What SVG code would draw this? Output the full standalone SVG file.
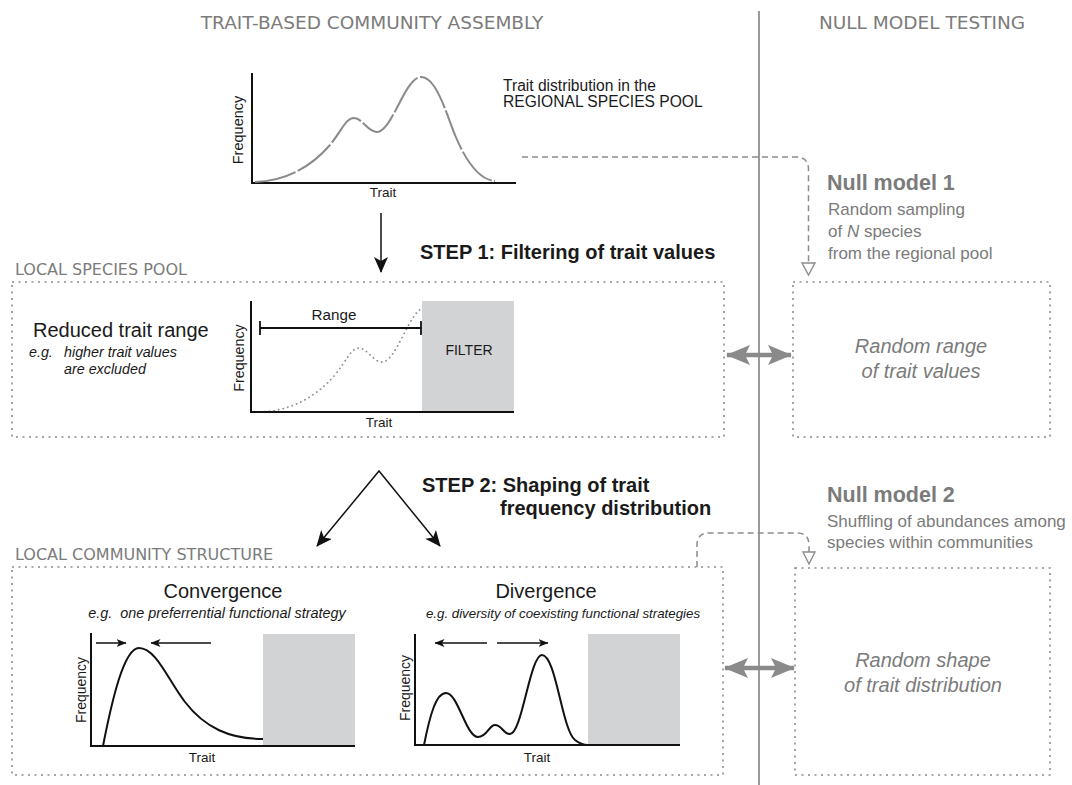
<svg xmlns="http://www.w3.org/2000/svg" width="1072" height="785" viewBox="0 0 1072 785">
<style>
.title{font-family:"DejaVu Sans",sans-serif;font-size:18.5px;fill:#7b7b7b}
.sec{font-family:"DejaVu Sans",sans-serif;font-size:16px;fill:#7b7b7b}
.t{font-family:"Liberation Sans",Arial,sans-serif;fill:#1a1a1a}
.g{font-family:"Liberation Sans",Arial,sans-serif;fill:#7b7b7b}
.it{font-style:italic}
.b{font-weight:bold}
.box{fill:none;stroke:#8c8c8c;stroke-width:1.6;stroke-dasharray:2 4.5}
.dash{fill:none;stroke:#8c8c8c;stroke-width:1.5;stroke-dasharray:6 4}
.axis{fill:none;stroke:#111;stroke-width:2}
.curve{fill:none;stroke:#111;stroke-width:2}
.filter{fill:#d1d3d4}
.blk{fill:none;stroke:#111;stroke-width:1.5}
.dbl{fill:none;stroke:#8a8a8a;stroke-width:4.5}
.tri{fill:#fff;stroke:#8c8c8c;stroke-width:1.4}
</style>
<defs>
<marker id="ah" viewBox="0 0 16 14" refX="15" refY="7" markerWidth="16" markerHeight="14" markerUnits="userSpaceOnUse" orient="auto-start-reverse">
<path d="M0,0 L16,7 L0,14 L4,7 Z" fill="#111"/>
</marker>
<marker id="ahs" viewBox="0 0 10 8" refX="9.5" refY="4" markerWidth="10" markerHeight="8" markerUnits="userSpaceOnUse" orient="auto-start-reverse">
<path d="M0,0 L10,4 L0,8 L2.5,4 Z" fill="#111"/>
</marker>
<marker id="ahg" viewBox="0 0 24 20" refX="23" refY="10" markerWidth="24" markerHeight="20" markerUnits="userSpaceOnUse" orient="auto-start-reverse">
<path d="M0,0 L24,10 L0,20 L5,10 Z" fill="#8a8a8a"/>
</marker>
<clipPath id="clipf"><rect x="240" y="290" width="182" height="130"/></clipPath>
</defs>
<rect width="1072" height="785" fill="#fff"/>

<g id="titles">
<text class="title" x="372" y="29" text-anchor="middle">TRAIT-BASED COMMUNITY ASSEMBLY</text>
<text class="title" x="922" y="29" text-anchor="middle">NULL MODEL TESTING</text>
</g>
<line id="divider" x1="759" y1="11" x2="759" y2="785" stroke="#9a9a9a" stroke-width="2"/>

<g id="regional-pool">
<path class="axis" d="M252,73 V183 H516"/>
<path id="regcurve" d="M255,182 C285,181 310,168 330,145 C342,130 346,118 354,118 C362,118 368,132 377,132 C392,132 405,77 421,77 C436,77 445,110 455,135 C466,162 480,180 495,181" fill="none" stroke="#8a8a8a" stroke-width="2" stroke-dasharray="42 2.5"/>
<text class="t" x="383" y="197" font-size="13.5" text-anchor="middle">Trait</text>
<text class="t" transform="translate(243,130) rotate(-90)" font-size="14.5" text-anchor="middle">Frequency</text>
<text class="t" x="503" y="91" font-size="15.6">Trait distribution in the</text>
<text class="t" x="503" y="107" font-size="15.6">REGIONAL SPECIES POOL</text>
</g>

<g id="step1-label">
<text class="t b" x="420" y="259" font-size="20">STEP 1: Filtering of trait values</text>
</g>

<g id="local-species-pool">
<text class="sec" x="15" y="275">LOCAL SPECIES POOL</text>
<rect class="box" x="12" y="282" width="712" height="155"/>
<text class="t" x="33" y="337" font-size="20">Reduced trait range</text>
<text class="t it" x="29" y="357" font-size="14.3">e.g.<tspan x="64">higher trait values</tspan></text>
<text class="t it" x="64" y="374" font-size="14.3">are excluded</text>
<rect class="filter" x="422" y="301" width="92" height="111"/>
<text class="t" x="469" y="355" font-size="14" text-anchor="middle">FILTER</text>
<g clip-path="url(#clipf)">
<path d="M255,182 C285,181 310,168 330,145 C342,130 346,118 354,118 C362,118 368,132 377,132 C392,132 405,77 421,77" transform="translate(5,230)" fill="none" stroke="#8f8f8f" stroke-width="1.8" stroke-linecap="round" stroke-dasharray="0.1 4.6"/>
</g>
<path class="axis" d="M251,301 V412 H514"/>
<path d="M260,328 H421 M260,321 V335 M421,321 V335" fill="none" stroke="#111" stroke-width="1.8"/>
<text class="t" x="334" y="320" font-size="15.2" text-anchor="middle">Range</text>
<text class="t" x="379" y="427" font-size="13.5" text-anchor="middle">Trait</text>
<text class="t" transform="translate(244,358) rotate(-90)" font-size="14.3" text-anchor="middle">Frequency</text>
</g>

<g id="null-model-1">
<text class="g b" x="827" y="190" font-size="21.5">Null model 1</text>
<text class="g" x="828" y="215" font-size="17">Random sampling</text>
<text class="g" x="828" y="237" font-size="17">of <tspan font-style="italic">N</tspan> species</text>
<text class="g" x="828" y="259" font-size="17">from the regional pool</text>
<rect class="box" x="793" y="282" width="257" height="155"/>
<text class="g it" x="921" y="353" font-size="20" text-anchor="middle">Random range</text>
<text class="g it" x="921" y="378" font-size="20" text-anchor="middle">of trait values</text>
</g>

<g id="step2-label">
<text class="t b" x="422" y="492" font-size="20">STEP 2: Shaping of trait</text>
<text class="t b" x="500" y="515" font-size="20">frequency distribution</text>
</g>

<g id="local-community">
<text class="sec" x="15" y="560">LOCAL COMMUNITY STRUCTURE</text>
<rect class="box" x="12" y="567" width="711" height="208"/>
</g>

<g id="convergence">
<text class="t" x="223" y="598" font-size="20" text-anchor="middle">Convergence</text>
<text class="t it" x="217" y="618" font-size="14.4" text-anchor="middle" xml:space="preserve">e.g.  one preferrential functional strategy</text>
<rect class="filter" x="263" y="634" width="92" height="112"/>
<path class="curve" d="M103,746 C112,700 124,648 139,648 C156,648 168,680 185,702 C205,728 230,739 263,739"/>
<path class="axis" d="M91,633 V746 H355"/>
<line class="blk" x1="96" y1="643" x2="126" y2="643" marker-end="url(#ahs)"/>
<line class="blk" x1="211" y1="643" x2="151" y2="643" marker-end="url(#ahs)"/>
<text class="t" x="202" y="762" font-size="13.5" text-anchor="middle">Trait</text>
<text class="t" transform="translate(86,690) rotate(-90)" font-size="14" text-anchor="middle">Frequency</text>
</g>

<g id="divergence">
<text class="t" x="546" y="598" font-size="20" text-anchor="middle">Divergence</text>
<text class="t it" x="563" y="618" font-size="13.3" text-anchor="middle">e.g. diversity of coexisting functional strategies</text>
<rect class="filter" x="588" y="634" width="92" height="111"/>
<path class="curve" d="M424,745 C430,715 436,693 446,693 C458,693 466,737 478,737 C487,737 489,725 495,725 C502,725 503,734 510,734 C522,734 530,655 542,655 C556,655 562,730 575,740 C580,744 584,745 588,745"/>
<path class="axis" d="M415,634 V745 H680"/>
<line class="blk" x1="487" y1="643" x2="435" y2="643" marker-end="url(#ahs)"/>
<line class="blk" x1="497" y1="643" x2="548" y2="643" marker-end="url(#ahs)"/>
<text class="t" x="537" y="762" font-size="13.5" text-anchor="middle">Trait</text>
<text class="t" transform="translate(410,688) rotate(-90)" font-size="14" text-anchor="middle">Frequency</text>
</g>

<g id="null-model-2">
<text class="g b" x="827" y="502" font-size="21.5">Null model 2</text>
<text class="g" x="827" y="527" font-size="17">Shuffling of abundances among</text>
<text class="g" x="827" y="548" font-size="17">species within communities</text>
<rect class="box" x="795" y="568" width="255" height="207"/>
<text class="g it" x="923" y="667" font-size="20" text-anchor="middle">Random shape</text>
<text class="g it" x="923" y="692" font-size="20" text-anchor="middle">of trait distribution</text>
</g>

<g id="connectors">
<line class="blk" x1="381" y1="213" x2="381" y2="272" marker-end="url(#ah)"/>
<path class="blk" d="M317,546 L379,471 L440,546" stroke-linejoin="miter" marker-start="url(#ah)" marker-end="url(#ah)"/>
<path class="dash" d="M522,157 H796 Q808.5,157 808.5,169.5 V263"/>
<path class="tri" d="M802,263 H815 L808.5,275 Z"/>
<path class="dash" d="M697,567 V545 Q697,533 709,533 H797 Q809,533 809,545 V552"/>
<path class="tri" d="M803,552 H815 L809,564 Z"/>
<line class="dbl" x1="727" y1="355" x2="791" y2="355" marker-start="url(#ahg)" marker-end="url(#ahg)"/>
<line class="dbl" x1="725" y1="668" x2="794" y2="668" marker-start="url(#ahg)" marker-end="url(#ahg)"/>
</g>
</svg>
